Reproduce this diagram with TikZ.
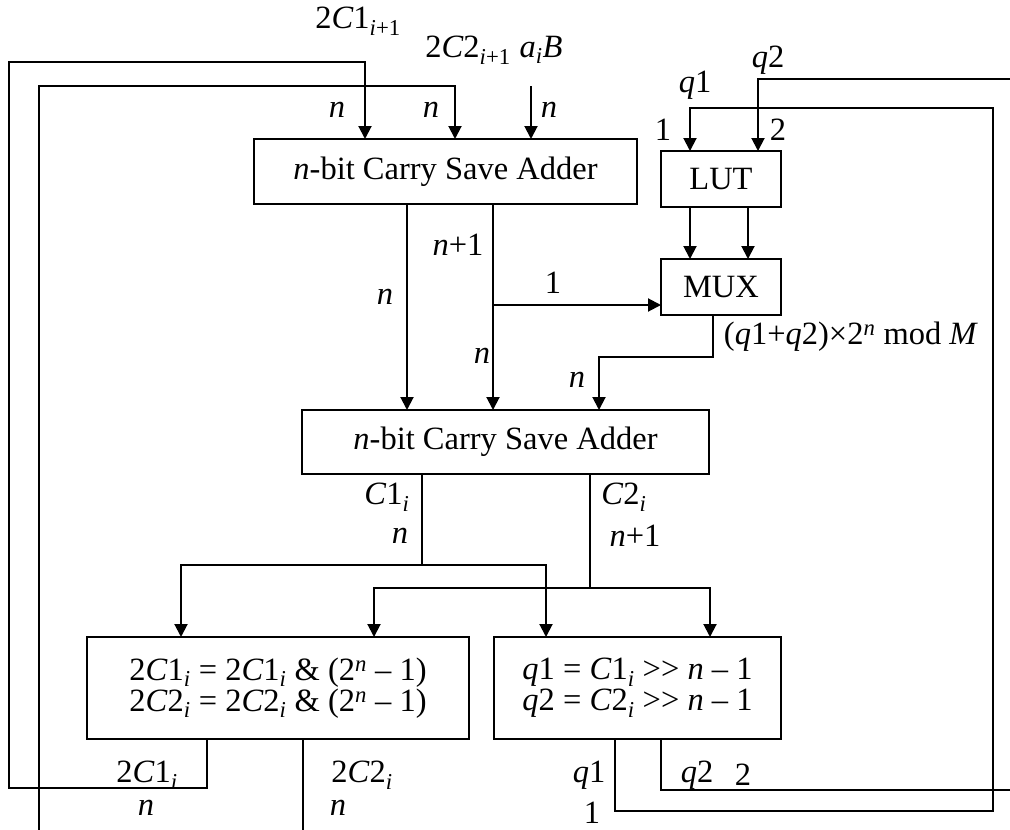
\documentclass[tikz,border=0pt]{standalone}
\usepackage{fontspec}
\setmainfont{Liberation Serif}
\usetikzlibrary{arrows.meta,positioning,calc}
\newcommand{\sbi}{\textsubscript{\textit{i}}}
\newcommand{\supn}{\textsuperscript{\textit{n}}}
\newcommand{\vn}{\textit{n}}

\begin{document}
\begin{tikzpicture}[
  x=1pt, y=-1pt, font=\fontsize{32.5}{31}\selectfont,
  blk/.style={draw, line width=2.4pt, outer sep=0pt, inner sep=0pt, align=center},
  lbl/.style={inner sep=0pt, anchor=center},
  ar/.style={-{Triangle[length=13pt,width=13pt]}, line width=2pt},
  ln/.style={line width=2pt},
]
\useasboundingbox (0,0) rectangle (1010,830);

% ---------------------------------------------------------------- blocks
\node[blk, minimum width=383pt, minimum height=65pt] at (445.5,171.5) (csa1) {\vn-bit Carry Save Adder};
\node[blk, minimum width=120pt, minimum height=56pt] at (721,179) (lut) {LUT};
\node[blk, minimum width=120pt, minimum height=56pt] at (721,287) (mux) {MUX};
\node[blk, minimum width=407pt, minimum height=64pt] at (505.5,442) (csa2) {\vn-bit Carry Save Adder};
\node[blk, minimum width=382pt, minimum height=102pt] at (278,688) (msk)
  {2\textit{C}1\sbi{} = 2\textit{C}1\sbi{} \& (2\supn{} – 1)\\2\textit{C}2\sbi{} = 2\textit{C}2\sbi{} \& (2\supn{} – 1)};
\node[blk, minimum width=287pt, minimum height=102pt] at (637.5,688) (shf)
  {\textit{q}1 = \textit{C}1\sbi{} >{}> \vn{} – 1\\\textit{q}2 = \textit{C}2\sbi{} >{}> \vn{} – 1};

% ---------------------------------------------------------------- loose ends
\coordinate (ain)   at (531,86);
\coordinate (c2in)  at (39,830);
\coordinate (c2out) at (303,830);
\coordinate (q2in)  at (1010,79);
\coordinate (q2out) at (1010,790);
\coordinate (br)    at (493,305);
\coordinate (jc1)   at (422,565);
\coordinate (jc2)   at (590,588);

% ---------------------------------------------------------------- inputs of first adder
\draw[ar] ([xshift=-71pt]msk.south) |- (9,788) -- (9,62) -| ([xshift=-80.5pt]csa1.north);
\draw[ln] ([xshift=25pt]msk.south) -- (c2out);
\draw[ar] (c2in) -- (39,86) -| ([xshift=9.5pt]csa1.north);
\draw[ar] (ain) -- (ain |- csa1.north);

% ---------------------------------------------------------------- middle
\draw[ar] ([xshift=-38.5pt]csa1.south) -- ([xshift=-98.5pt]csa2.north);
\draw[ar] ([xshift=47.5pt]csa1.south) -- ([xshift=-12.5pt]csa2.north);
\draw[ar] (br) -- (br -| mux.west);
\draw[ar] ([xshift=-31pt]lut.south) -- ([xshift=-31pt]mux.north);
\draw[ar] ([xshift=27pt]lut.south) -- ([xshift=27pt]mux.north);
\draw[ar] ([xshift=-8pt]mux.south) |- (599,357) -- ([xshift=93.5pt]csa2.north);

% ---------------------------------------------------------------- outputs of second adder
\draw[ln] ([xshift=-83.5pt]csa2.south) -- (jc1);
\draw[ar] (jc1) -| ([xshift=-97pt]msk.north);
\draw[ar] (jc1) -| ([xshift=-91.5pt]shf.north);
\draw[ln] ([xshift=84.5pt]csa2.south) -- (jc2);
\draw[ar] (jc2) -| ([xshift=96pt]msk.north);
\draw[ar] (jc2) -| ([xshift=72.5pt]shf.north);

% ---------------------------------------------------------------- q1 / q2 back to LUT
\draw[ar] ([xshift=-22.5pt]shf.south) |- (993,811) -- (993,108) -| ([xshift=-31pt]lut.north);
\draw[ln] ([xshift=23.5pt]shf.south) |- (q2out);
\draw[ar] (q2in) -| ([xshift=37pt]lut.north);

% ---------------------------------------------------------------- labels
\node[lbl] at (358,21) (tC1) {2\textit{C}1\textsubscript{\textit{i}+1}};
\node[lbl] at (468,50) (tC2) {2\textit{C}2\textsubscript{\textit{i}+1}};
\node[lbl] at (541,50) (tab) {\textit{a}\sbi\textit{B}};
\node[lbl] at (337,110) (n1) {\vn};
\node[lbl] at (431,110) (n2) {\vn};
\node[lbl] at (549,110) (n3) {\vn};
\node[lbl] at (695,85) (tq1) {\textit{q}1};
\node[lbl] at (768,60) (tq2) {\textit{q}2};
\node[lbl] at (663,130) (t1) {1};
\node[lbl] at (778,130) (t2) {2};
\node[lbl] at (458,245) (n4) {\vn+1};
\node[lbl] at (385,297) (n5) {\vn};
\node[lbl] at (553,283) (t3) {1};
\node[lbl] at (482,356) (n6) {\vn};
\node[lbl] at (577,380) (n7) {\vn};
\node[lbl] at (851,337) (tmod) {(\textit{q}1+\textit{q}2)×2\supn{} mod \textit{M}};
\node[lbl] at (387,497) (tc1) {\textit{C}1\sbi};
\node[lbl] at (400,536) (n8) {\vn};
\node[lbl] at (624,497) (tc2) {\textit{C}2\sbi};
\node[lbl] at (635,536) (n9) {\vn+1};
\node[lbl] at (147,775) (bC1) {2\textit{C}1\sbi};
\node[lbl] at (146,808) (n10) {\vn};
\node[lbl] at (362,775) (bC2) {2\textit{C}2\sbi};
\node[lbl] at (338,808) (n11) {\vn};
\node[lbl] at (589,775) (bq1) {\textit{q}1};
\node[lbl] at (592,813) (t4) {1};
\node[lbl] at (697,775) (bq2) {\textit{q}2};
\node[lbl] at (743,775) (t5) {2};

\end{tikzpicture}
\end{document}
